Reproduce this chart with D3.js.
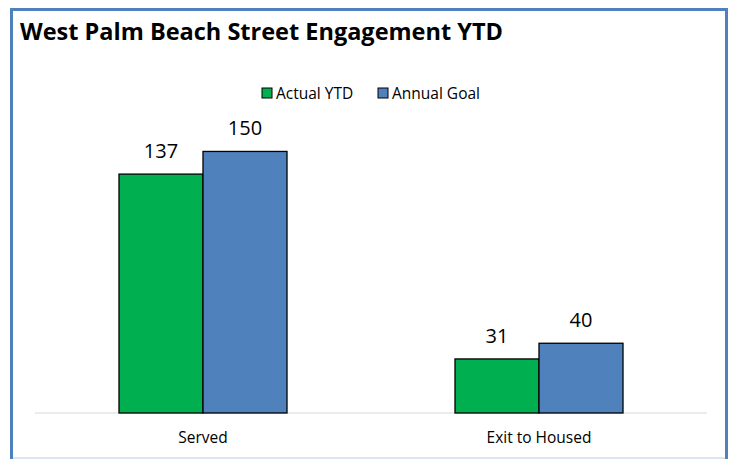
<!DOCTYPE html>
<html>
<head>
<meta charset="utf-8">
<script src="https://cdn.jsdelivr.net/npm/d3@7"></script>
<style>
  body { margin: 0; background: #fff; }
  text { font-family: "Open Sans", Lato, sans-serif; fill: #000; }
</style>
</head>
<body>
<div id="vis"></div>
<script>
// dados do gráfico
const categories = ["Served", "Exit to Housed"];
const seriesNames = ["Actual YTD", "Annual Goal"];
const actualYTD = [137, 31];
const annualGoal = [150, 40];
const colors = ["#00B050", "#4F81BD"];

const W = 729, H = 459;

const svg = d3.select("#vis").append("svg")
    .attr("width", W)
    .attr("height", H);

// moldura azul do gráfico
svg.append("rect")
    .attr("x", 11.5).attr("y", 9.5)
    .attr("width", 715).attr("height", 470)
    .attr("fill", "#fff")
    .attr("stroke", "#4F81BD")
    .attr("stroke-width", 3);
svg.append("line")
    .attr("x1", 13).attr("x2", 725)
    .attr("y1", 458).attr("y2", 458)
    .attr("stroke", "#DCE6F2").attr("stroke-width", 2);

// título
svg.append("text")
    .attr("x", 20).attr("y", 40)
    .attr("font-size", 23.5)
    .attr("font-weight", "bold")
    .text("West Palm Beach Street Engagement YTD");

// escalas
const x0 = d3.scaleBand()
    .domain(categories)
    .range([35, 707]);

const groupW = 168;
const x1 = d3.scaleBand()
    .domain(seriesNames)
    .range([0, groupW]);

const y = d3.scaleLinear()
    .domain([0, 160])
    .range([413, 134]);

const rows = categories.map((c, i) => ({
    category: c,
    values: [actualYTD[i], annualGoal[i]]
}));

// linha do eixo x
svg.append("line")
    .attr("x1", 35).attr("x2", 707)
    .attr("y1", 413).attr("y2", 413)
    .attr("stroke", "#D9D9D9").attr("stroke-width", 1);

const groups = svg.selectAll("g.grp")
    .data(rows)
    .enter()
    .append("g")
    .attr("class", "grp")
    .attr("transform", d => `translate(${x0(d.category) + (x0.bandwidth() - groupW) / 2}, 0)`);

groups.selectAll("rect")
    .data(d => d.values.map((v, j) => ({ name: seriesNames[j], value: v, j })))
    .enter()
    .append("rect")
    .attr("x", d => x1(d.name))
    .attr("y", d => y(d.value))
    .attr("width", x1.bandwidth())
    .attr("height", d => y(0) - y(d.value))
    .attr("fill", d => colors[d.j])
    .attr("stroke", "#000")
    .attr("stroke-width", 1.3);

groups.selectAll("text.val")
    .data(d => d.values.map((v, j) => ({ name: seriesNames[j], value: v })))
    .enter()
    .append("text")
    .attr("class", "val")
    .attr("x", d => x1(d.name) + x1.bandwidth() / 2)
    .attr("y", d => y(d.value) - 16)
    .attr("text-anchor", "middle")
    .attr("font-size", 20)
    .text(d => d.value);

svg.selectAll("text.cat")
    .data(categories)
    .enter()
    .append("text")
    .attr("class", "cat")
    .attr("x", d => x0(d) + x0.bandwidth() / 2)
    .attr("y", 443)
    .attr("text-anchor", "middle")
    .attr("font-size", 15.5)
    .text(d => d);

// legenda
const legendX = [262, 378];
const legend = svg.selectAll("g.leg")
    .data(seriesNames)
    .enter()
    .append("g")
    .attr("class", "leg")
    .attr("transform", (d, i) => `translate(${legendX[i]}, 88)`);

legend.append("rect")
    .attr("width", 10).attr("height", 10)
    .attr("fill", (d, i) => colors[i])
    .attr("stroke", "#000")
    .attr("stroke-width", 1);

legend.append("text")
    .attr("x", 14).attr("y", 10.5)
    .attr("font-size", 15.5)
    .text(d => d);
</script>
</body>
</html>
